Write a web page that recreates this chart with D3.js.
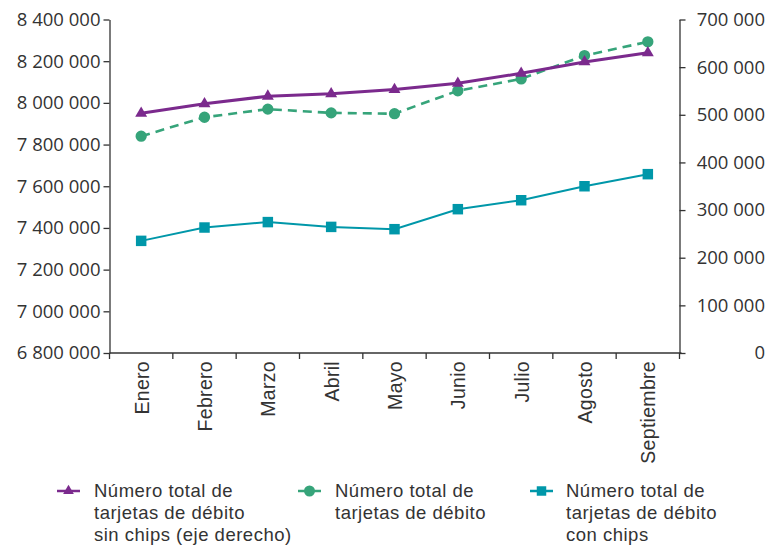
<!DOCTYPE html>
<html>
<head>
<meta charset="utf-8">
<script src="https://cdn.jsdelivr.net/npm/d3@7"></script>
<style>
  body { margin: 0; background: #fff; }
  svg text { fill: #333; }
</style>
</head>
<body>
<div id="viz"></div>
<script>
// data
var months = ["Enero","Febrero","Marzo","Abril","Mayo","Junio","Julio","Agosto","Septiembre"];
var totalCards = [7840000, 7931000, 7970000, 7952000, 7948000, 8058000, 8115000, 8227000, 8293000];
var chipCards = [7338000, 7402000, 7428000, 7405000, 7394000, 7490000, 7533000, 7600000, 7658000];
var noChipCards = [503000, 523000, 539000, 544000, 553000, 566000, 587000, 611000, 630000];
var leftTicks = [6800000, 7000000, 7200000, 7400000, 7600000, 7800000, 8000000, 8200000, 8400000];
var rightTicks = [0, 100000, 200000, 300000, 400000, 500000, 600000, 700000];
var legendLabels = [
  ["Número total de", "tarjetas de débito", "sin chips (eje derecho)"],
  ["Número total de", "tarjetas de débito"],
  ["Número total de", "tarjetas de débito", "con chips"]
];

var purple = "#7b2a8d", green = "#36a47a", teal = "#0097a9";

// set the dimensions and margins of the graph
var W = 769, H = 546;
var margin = {top: 19.5, left: 109.5, right: 89.5, bottom: 193};
var x0 = margin.left, x1 = W - margin.right, y0 = H - margin.bottom, y1 = margin.top;

var svg = d3.select("#viz")
  .append("svg")
    .attr("width", W)
    .attr("height", H);

var fmt = d3.formatLocale({decimal: ",", thousands: " ", grouping: [3], currency: ["", ""]}).format(",d");

var x = d3.scaleBand().domain(months).range([x0, x1]);
var yL = d3.scaleLinear().domain([6800000, 8400000]).range([y0, y1]);
var yR = d3.scaleLinear().domain([0, 700000]).range([y0, y1]);

var tickFont = "'Open Sans', sans-serif";

// left axis
var gL = svg.append("g")
    .attr("transform", "translate(" + x0 + ",0)")
    .call(d3.axisLeft(yL).tickValues(leftTicks).tickFormat(fmt).tickSize(6).tickSizeOuter(0));
gL.selectAll("text").style("font-family", tickFont).style("font-size", "18.5px").attr("x", -9);

// right axis
var gR = svg.append("g")
    .attr("transform", "translate(" + x1 + ",0)")
    .call(d3.axisRight(yR).tickValues(rightTicks).tickFormat(fmt).tickSize(6).tickSizeOuter(0));
gR.selectAll("text").style("font-family", tickFont).style("font-size", "18.5px")
    .attr("text-anchor", "end").attr("x", W - 4 - x1);

// bottom axis: line + ticks at band edges + rotated labels
var gB = svg.append("g");
gB.append("line").attr("x1", x0).attr("x2", x1 + 2).attr("y1", y0).attr("y2", y0);
var edges = months.map(function(d) { return x(d); }).concat([x1]);
gB.selectAll(".edge").data(edges).enter().append("line")
    .attr("x1", function(d) { return d; }).attr("x2", function(d) { return d; })
    .attr("y1", y0).attr("y2", y0 + 6);
gB.selectAll("text").data(months).enter().append("text")
    .attr("transform", function(d) { return "translate(" + (x(d) + x.bandwidth() / 2 + 7.5) + "," + (y0 + 8) + ") rotate(-90)"; })
    .attr("text-anchor", "end")
    .style("font-family", "'Liberation Sans', Arial, sans-serif")
    .style("font-size", "19.5px")
    .style("letter-spacing", "0.3px")
    .text(function(d) { return d; });

svg.selectAll(".domain, .tick line").attr("stroke", "#333").attr("stroke-width", 1.3);
gB.selectAll("line").attr("stroke", "#333").attr("stroke-width", 1.3);

function cx(d, i) { return x(months[i]) + x.bandwidth() / 2; }

var series = [
  {vals: totalCards, scale: yL, color: green, width: 2.6, dash: "9,6", symbol: d3.symbolCircle, size: 100},
  {vals: chipCards, scale: yL, color: teal, width: 2, dash: null, symbol: d3.symbolSquare, size: 110},
  {vals: noChipCards, scale: yR, color: purple, width: 3, dash: null, symbol: d3.symbolTriangle, size: 62}
];

series.forEach(function(s) {
  svg.append("path")
    .datum(s.vals)
    .attr("d", d3.line().x(cx).y(function(d) { return s.scale(d); }))
    .attr("fill", "none")
    .attr("stroke", s.color)
    .attr("stroke-width", s.width)
    .attr("stroke-dasharray", s.dash);
  svg.selectAll(null).data(s.vals).enter().append("path")
    .attr("d", d3.symbol().type(s.symbol).size(s.size))
    .attr("transform", function(d, i) { return "translate(" + cx(d, i) + "," + s.scale(d) + ")"; })
    .attr("fill", s.color);
});

// legend (Liberation Sans: its line box fits the tight 22px leading)
var legendItems = [
  {mx: 57, tx: 94, color: purple, symbol: d3.symbolTriangle, size: 50, lines: legendLabels[0]},
  {mx: 298, tx: 335, color: green, symbol: d3.symbolCircle, size: 95, lines: legendLabels[1]},
  {mx: 530, tx: 566, color: teal, symbol: d3.symbolSquare, size: 90, lines: legendLabels[2]}
];
var lg = svg.selectAll(".leg").data(legendItems).enter().append("g");
lg.append("line")
    .attr("x1", function(d) { return d.mx; }).attr("x2", function(d) { return d.mx + 23; })
    .attr("y1", 491).attr("y2", 491)
    .attr("stroke", function(d) { return d.color; }).attr("stroke-width", 2.5);
lg.append("path")
    .attr("d", function(d) { return d3.symbol().type(d.symbol).size(d.size)(); })
    .attr("transform", function(d) { return "translate(" + (d.mx + 11.5) + ",491)"; })
    .attr("fill", function(d) { return d.color; });
lg.each(function(d) {
  var g = d3.select(this);
  d.lines.forEach(function(l, i) {
    g.append("text")
      .attr("x", d.tx).attr("y", 497 + i * 22)
      .style("font-family", "'Liberation Sans', Arial, sans-serif")
      .style("font-size", "18.5px")
      .style("letter-spacing", "0.5px")
      .text(l);
  });
});
</script>
</body>
</html>
